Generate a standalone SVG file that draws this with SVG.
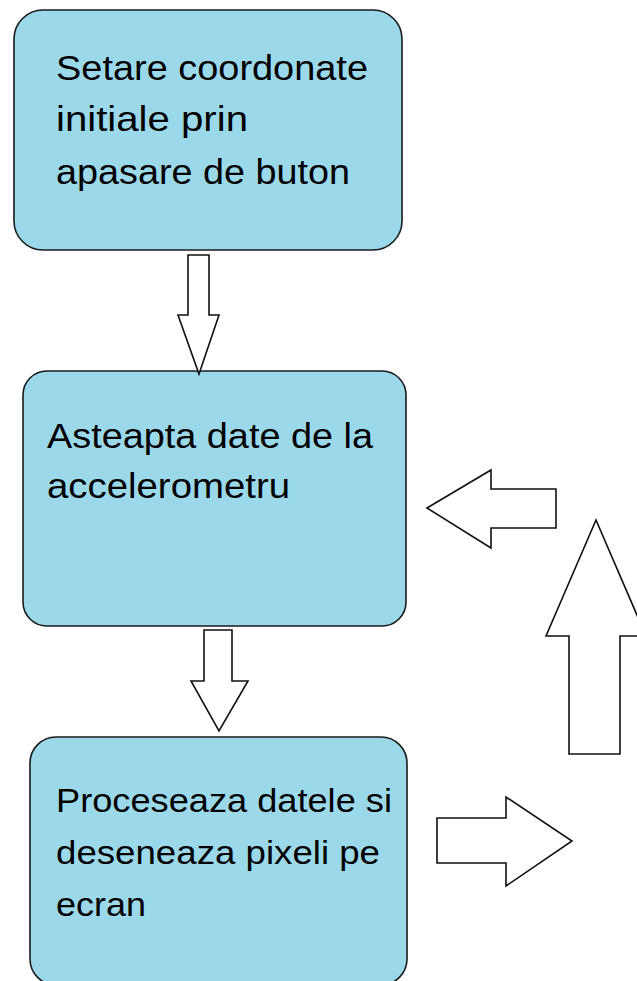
<svg xmlns="http://www.w3.org/2000/svg" width="637" height="981" viewBox="0 0 637 981">
<style>
.box{fill:#9BD9EA;stroke:#1a1a1a;stroke-width:1.6}
.arr{fill:#ffffff;stroke:#111;stroke-width:1.6;stroke-linejoin:miter}
.t{font-family:"Liberation Sans","Noto Sans",sans-serif;font-size:35px;fill:#000}
.t3{font-size:33px}
</style>
<rect width="637" height="981" fill="#ffffff"/>
<g id="node1">
<rect class="box" x="14" y="10" width="388" height="240" rx="29" ry="29"/>
<text class="t" x="56" y="80" textLength="312" lengthAdjust="spacingAndGlyphs">Setare coordonate</text>
<text class="t" x="56" y="131" textLength="192" lengthAdjust="spacingAndGlyphs">initiale prin</text>
<text class="t" x="56" y="184" textLength="294" lengthAdjust="spacingAndGlyphs">apasare de buton</text>
</g>
<g id="node2">
<rect class="box" x="23" y="371" width="383" height="255" rx="24" ry="24"/>
<text class="t" x="47" y="448" textLength="326" lengthAdjust="spacingAndGlyphs">Asteapta date de la</text>
<text class="t" x="47" y="498" textLength="243" lengthAdjust="spacingAndGlyphs">accelerometru</text>
</g>
<g id="node3">
<rect class="box" x="30" y="737" width="377" height="248" rx="26" ry="26"/>
<text class="t t3" x="56" y="812" textLength="336" lengthAdjust="spacingAndGlyphs">Proceseaza datele si</text>
<text class="t t3" x="56" y="864" textLength="324" lengthAdjust="spacingAndGlyphs">deseneaza pixeli pe</text>
<text class="t t3" x="56" y="916" textLength="90" lengthAdjust="spacingAndGlyphs">ecran</text>
</g>
<g id="connectors">
<polygon class="arr" points="188,255 209,255 209,315 219,315 199,374 178,315 188,315"/>
<polygon class="arr" points="204,630 232,630 232,681 248,681 219,731 191,681 204,681"/>
<polygon class="arr" points="427,508 491,470 491,489 556,489 556,528 491,528 491,548"/>
<polygon class="arr" points="596,520 646,636 620,636 620,754 569,754 569,636 546,636"/>
<polygon class="arr" points="437,818 506,818 506,797 572,841 506,886 506,863 437,863"/>
</g>
</svg>
